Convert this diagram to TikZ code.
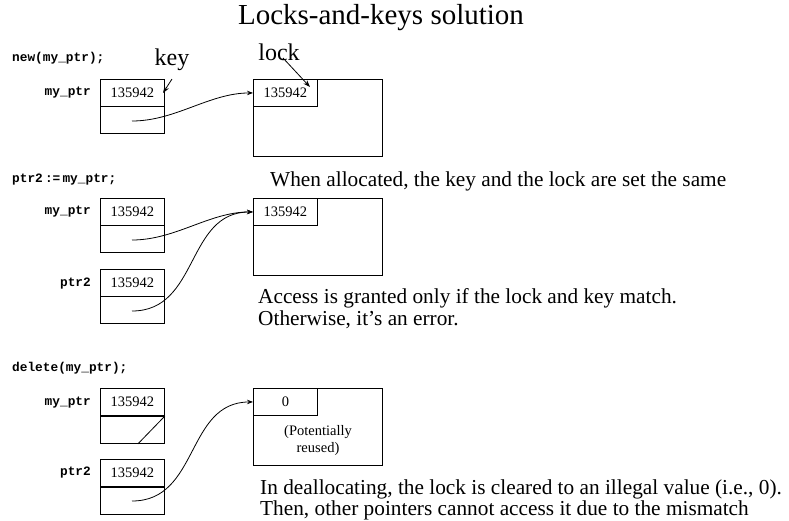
\documentclass[tikz,border=0pt]{standalone}
\usepackage{fontspec}
\setmainfont{Liberation Serif}
\setmonofont{Liberation Mono}
\usetikzlibrary{arrows.meta}
\begin{document}
\begin{tikzpicture}[x=1pt,y=-1pt,
  cell/.style={draw,line width=0.9pt,anchor=north west,minimum width=64pt,minimum height=27pt,inner sep=0pt,font=\fontsize{14.5}{16}\selectfont},
  big/.style={draw,line width=0.9pt,anchor=north west,minimum width=129pt,minimum height=77pt,inner sep=0pt},
  code/.style={anchor=west,inner sep=0pt,font=\ttfamily\bfseries\fontsize{12.8}{14}\selectfont},
  lbl/.style={anchor=east,inner sep=0pt,font=\ttfamily\bfseries\fontsize{12.8}{14}\selectfont},
  note/.style={anchor=base west,inner sep=0pt,font=\fontsize{21.3}{25}\selectfont},
  ptr/.style={line width=0.8pt,-{Stealth[length=6pt,width=4.5pt]}},
  tip/.style={line width=0.8pt,-{Stealth[length=7pt,width=5pt]}}]
\useasboundingbox (0,0) rectangle (789,520);
\node[font=\fontsize{29}{32}\selectfont,inner sep=0pt] (title) at (381,18) {Locks-and-keys solution};

% ---- section 1
\node[code] (c1) at (12,58) {new(my\_ptr);};
\node[lbl] (l1) at (91,93) {my\_ptr};
\node[cell] (k1) at (100,79) {135942};
\node[cell] (p1) at (100,106) {};
\node[big] (b1) at (253,79) {};
\node[cell] (v1) at (253,79) {135942};
\node[font=\fontsize{24}{26}\selectfont,inner sep=0pt] (key) at (172,60) {key};
\node[font=\fontsize{24}{26}\selectfont,inner sep=0pt] (lock) at (279,52) {lock};
\coordinate (ks) at (172,79);
\coordinate (ke) at (163,93);
\coordinate (ls) at (283,58);
\coordinate (le) at (310,87);
\draw[tip] (ks) -- (ke);
\draw[tip] (ls) -- (le);
\coordinate (s1) at (132,121);
\draw[ptr] (s1) to[out=0,in=180,looseness=0.9] (v1.west);

% ---- section 2
\node[code] (c2) at (12,180) {ptr2\,:=\,my\_ptr;};
\node[lbl] (l2) at (91,212) {my\_ptr};
\node[cell] (k2) at (100,198) {135942};
\node[cell] (p2) at (100,225) {};
\node[lbl] (l3) at (91,284) {ptr2};
\node[cell] (k3) at (100,269) {135942};
\node[cell] (p3) at (100,296) {};
\node[big] (b2) at (253,198) {};
\node[cell] (v2) at (253,198) {135942};
\coordinate (s2) at (132,240);
\coordinate (s3) at (132,311);
\draw[ptr] (s2) to[out=0,in=180,looseness=0.9] (v2.west);
\draw[ptr] (s3) to[out=0,in=180,looseness=1.1] (v2.west);
\node[note] (n1) at (270,186) {When allocated, the key and the lock are set the same};
\node[note] (n2) at (258,303) {Access is granted only if the lock and key match.};
\node[note] (n2b) at (258,325) {Otherwise, it’s an error.};

% ---- section 3
\node[code] (c3) at (12,368) {delete(my\_ptr);};
\node[lbl] (l4) at (91,403) {my\_ptr};
\node[cell] (k4) at (100,388) {135942};
\node[cell] (p4) at (100,416) {};
\draw[line width=0.8pt] ([xshift=-27pt]p4.south east) -- (p4.north east);
\node[lbl] (l5) at (91,473) {ptr2};
\node[cell] (k5) at (100,459) {135942};
\node[cell] (p5) at (100,487) {};
\node[big] (b3) at (253,388) {};
\node[cell] (v3) at (253,388) {0};
\node[align=center,inner sep=0pt,font=\fontsize{14.5}{17}\selectfont] (reu) at (318,441) {(Potentially\\reused)};
\coordinate (s5) at (132,501);
\draw[ptr] (s5) to[out=0,in=180,looseness=1.1] (v3.west);
\node[note] (n3) at (260,494) {In deallocating, the lock is cleared to an illegal value (i.e., 0).};
\node[note] (n3b) at (260,515) {Then, other pointers cannot access it due to the mismatch};
\end{tikzpicture}
\end{document}
